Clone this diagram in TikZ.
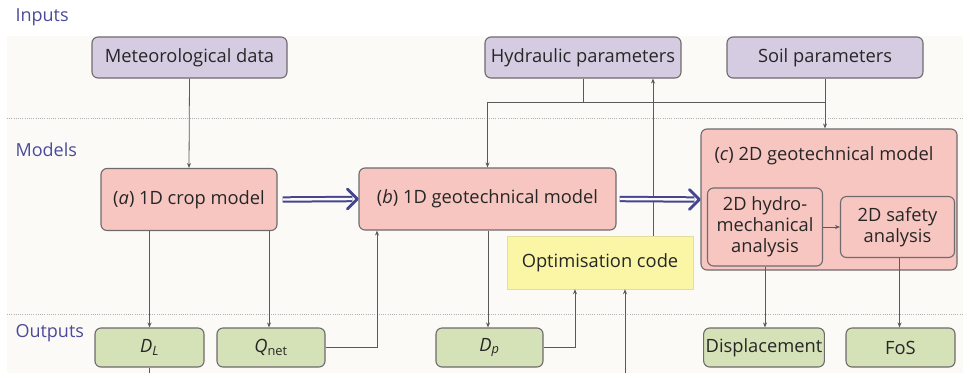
\documentclass[tikz,border=0pt]{standalone}
\usepackage{fontspec}
\setmainfont{Open Sans}
\usetikzlibrary{arrows.meta,calc}
\definecolor{purpfill}{HTML}{D6CCE2}
\definecolor{redfill}{HTML}{F7C6C1}
\definecolor{greenfill}{HTML}{D5E2B7}
\definecolor{yelfill}{HTML}{FAF6A6}
\definecolor{boxline}{HTML}{6E6A6E}
\definecolor{conn}{HTML}{5A5A5A}
\definecolor{lab}{HTML}{4B4B9B}
\definecolor{dbl}{HTML}{45458F}
\definecolor{band}{HTML}{FCFAF7}
\tikzset{
  box/.style={draw=boxline, line width=1.1pt, rounded corners=6pt, inner sep=2pt, align=center, text=black!85, font=\fontsize{18.3}{20}\selectfont},
  inputbox/.style={box, fill=purpfill, minimum height=41pt},
  modelbox/.style={box, fill=redfill},
  outbox/.style={box, fill=greenfill, minimum height=39pt},
  optbox/.style={box, rounded corners=0pt, draw=yelfill!80!gray, line width=0.4pt, fill=yelfill},
  lane/.style={text=lab, font=\fontsize{18}{20}\selectfont, anchor=west},
  conn/.style={draw=conn, line width=0.8pt},
  arr/.style={conn, -{Stealth[length=5pt,width=4pt]}},
  bigline/.style={draw=dbl, line width=2pt, double=band, double distance=2.4pt},
  bighead/.style={draw=dbl, line width=2.8pt, line cap=round, line join=round},
  sep/.style={draw=gray!60, line width=0.8pt, dash pattern=on 1pt off 1.2pt}
}
\begin{document}
\begin{tikzpicture}[x=1pt,y=-1pt]
\useasboundingbox (0,0) rectangle (963,373);
\fill[white] (0,0) rectangle (963,373);
\fill[band] (7,36) rectangle (963,373);
\draw[sep] (7,118) -- (963,118);
\draw[sep] (7,314) -- (963,314);
\node[lane] (linputs) at (12,17) {Inputs};
\node[lane] (lmodels) at (12,150) {Models};
\node[lane] (loutputs) at (12,333) {Outputs};

\node[inputbox, minimum width=195pt] (met) at (189.5,57.5) {Meteorological data};
\node[inputbox, minimum width=196pt] (hyd) at (583,57.5) {Hydraulic parameters};
\node[inputbox, minimum width=196pt] (soil) at (825,57.5) {Soil parameters};

\node[modelbox, minimum width=176pt, minimum height=62pt] (a) at (189,199.5) {(\textit{a}) 1D crop model};
\node[modelbox, minimum width=257pt, minimum height=62pt] (b) at (487.5,199) {(\textit{b}) 1D geotechnical model};
\node[modelbox, minimum width=256pt, minimum height=141pt] (c) at (829,199.5) {};
\node[text=black!85, font=\fontsize{18.3}{20}\selectfont] (ctitle) at (824,156) {(\textit{c}) 2D geotechnical model};
\node[modelbox, minimum width=115pt, minimum height=78pt, font=\fontsize{18.3}{21}\selectfont] (hm) at (765,227) {2D hydro-\\mechanical\\analysis};
\node[modelbox, minimum width=114pt, minimum height=61pt, font=\fontsize{18.3}{21}\selectfont] (sa) at (897.5,227) {2D safety\\analysis};
\node[optbox, minimum width=186pt, minimum height=53pt] (opt) at (600,262.5) {Optimisation code};

\node[outbox, minimum width=109pt] (DL) at (149.5,347.5) {\textit{D}\textsubscript{\textit{L}}};
\node[outbox, minimum width=108pt] (Qn) at (271,347.5) {\textit{Q}\textsubscript{net}};
\node[outbox, minimum width=107pt] (Dp) at (489.5,347.5) {\textit{D}\textsubscript{\textit{p}}};
\node[outbox, minimum width=120pt] (disp) at (764,347.5) {Displacement};
\node[outbox, minimum width=109pt] (fos) at (900.5,347.5) {FoS};

% input connectors
\draw[arr] (met.south) -- (a.north);
\draw[arr] (hyd.south) -- ++(0,24) -| (b.north);
\draw[conn] ($(soil.south)+(0,24)$) -- ($(hyd.south)+(0,24)$);
\draw[arr] (soil.south) -- (soil.south |- c.north);
\coordinate (optup) at ($(opt.north)+(53,0)$);
\draw[arr] (optup) -- (optup |- hyd.south);

% big arrows (double line + open chevron head)
\draw[bigline] ($(a.east)+(5,0)$) -- ($(b.west)+(-6,0)$);
\draw[bighead] ($(b.west)+(-11,-10)$) -- ($(b.west)+(-1,0)$) -- ($(b.west)+(-11,10)$);
\draw[bigline] ($(b.east)+(3,0)$) -- ($(c.west)+(-6,0)$);
\draw[bighead] ($(c.west)+(-11,-10)$) -- ($(c.west)+(-1,0)$) -- ($(c.west)+(-11,10)$);
\draw[arr, line width=0.6pt] (hm.east |- sa.west) -- (sa.west);

% outputs
\draw[arr] (a.south -| DL.north) -- (DL.north);
\coordinate (botL) at (149.5,373);
\draw[conn] (DL.south) -- (botL);
\coordinate (qx) at ($(a.south)+(80,0)$);
\draw[arr] (qx) -- (qx |- Qn.north);
\coordinate (bq) at ($(b.south)+(-110.5,0)$);
\draw[arr] (Qn.east) -| (bq);
\draw[arr] (b.south -| 488,0) -- (488,0 |- Dp.north);
\coordinate (dpo) at ($(opt.south)+(-25,0)$);
\draw[arr] (Dp.east) -| (dpo);
\coordinate (botR) at (625,373);
\draw[arr] (botR) -- (botR |- opt.south);
\draw[arr] (hm.south) -- (hm.south |- disp.north);
\coordinate (sx) at ($(sa.south)+(2,0)$);
\draw[arr] (sx) -- (sx |- fos.north);
\end{tikzpicture}
\end{document}
